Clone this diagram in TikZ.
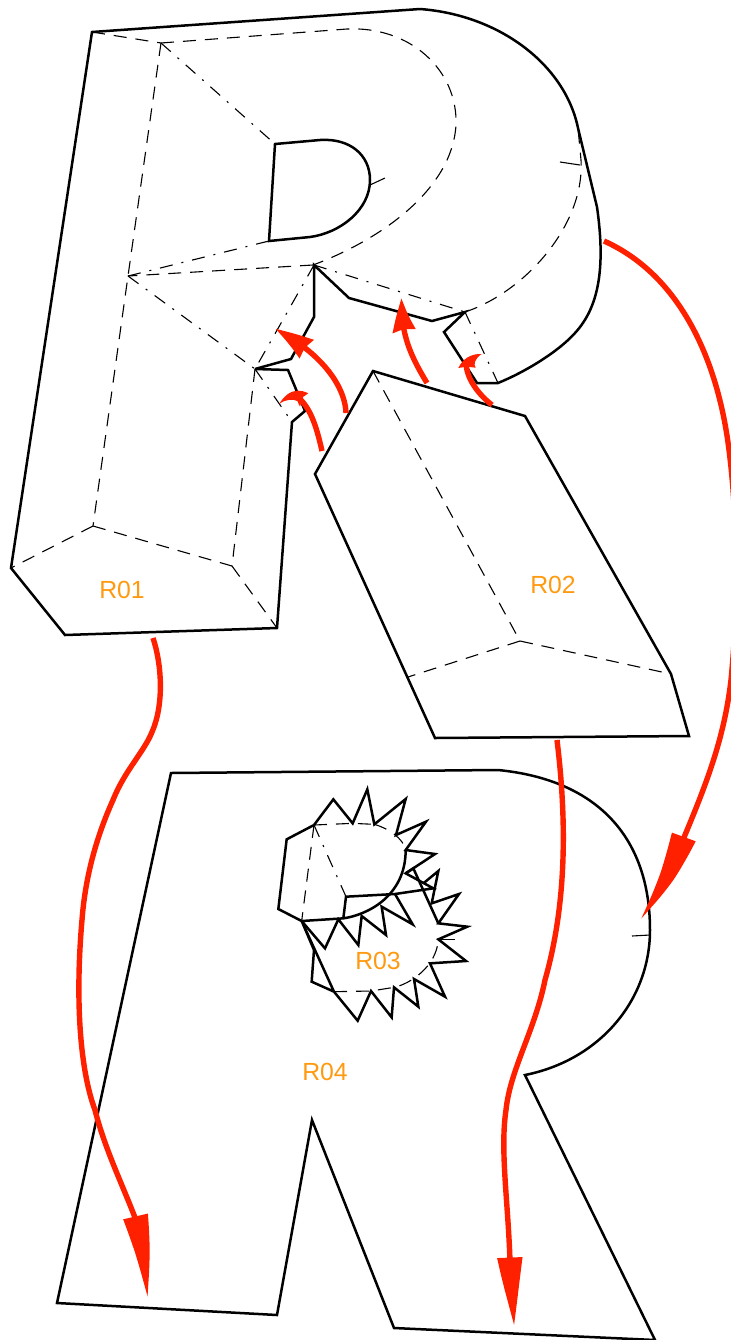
\documentclass[tikz,border=0pt]{standalone}
\usepackage{fontspec}
\setmainfont{Liberation Sans}
\usetikzlibrary{arrows.meta,bending}
\definecolor{arrowred}{HTML}{FF2000}
\definecolor{labelorange}{HTML}{FF9A10}
\tikzset{
  solidline/.style={draw=black,line width=1.25pt,line join=miter,miter limit=6},
  hiddenline/.style={draw=black,line width=0.55pt,dash pattern=on 6.5pt off 4.5pt},
  centerline/.style={draw=black,line width=0.55pt,dash pattern=on 6.5pt off 4.5pt on 1pt off 4.5pt},
  tickline/.style={draw=black,line width=0.55pt},
  redline/.style={draw=arrowred,line width=2.7pt},
  bigarrow/.style={redline,-{Stealth[length=#1,width=12pt,inset=0pt,bend]}},
  smallarrow/.style={redline,-{Stealth[length=#1,width=11pt,inset=1pt,bend]}},
  crescent/.style={fill=arrowred,draw=none},
  regionlabel/.style={text=labelorange,font=\fontsize{12.4pt}{14pt}\selectfont,inner sep=0pt}
}
\begin{document}
\begin{tikzpicture}[x=0.5pt,y=-0.5pt]
\useasboundingbox (0,0) rectangle (731,1340);
% R01
\draw[solidline] (92,32) -- (420,9) .. controls (500,15) and (565,65) .. (578,128)
  -- (597,207) .. controls (606,270) and (598,308) .. (575,333) .. controls (558,352) and (525,372) .. (498,383)
  -- (477,383) -- (444,332) -- (465,312) -- (432,321) -- (349,298) -- (314,265) -- (314,317) -- (291,359) -- (255,369) -- (288,370) -- (305,411) -- (292,422) -- (277,628) -- (65,635) -- (11,568) -- cycle;
\draw[solidline] (275,144) -- (320,140) .. controls (350,138) and (370,155) .. (370,180) .. controls (370,210) and (340,233) .. (310,237) -- (269,241) -- cycle;
\draw[hiddenline] (92,32) -- (161,43);
\draw[hiddenline] (161,43) -- (347,29) .. controls (410,26) and (458,70) .. (456,125) .. controls (452,190) and (380,240) .. (313,265);
\draw[hiddenline] (313,265) -- (128,276);
\draw[hiddenline] (161,43) -- (128,276) -- (93,526);
\draw[centerline] (128,276) -- (269,241);
\draw[centerline] (161,43) -- (275,144);
\draw[centerline] (128,276) -- (255,369);
\draw[hiddenline] (255,369) -- (232,566);
\draw[hiddenline] (93,526) -- (232,566);
\draw[hiddenline] (232,566) -- (277,628);
\draw[hiddenline] (93,526) -- (11,568);
\draw[centerline] (314,265) -- (255,369);
\draw[centerline] (255,369) -- (292,422);
\draw[centerline] (314,265) -- (465,312);
\draw[hiddenline] (465,312) .. controls (525,292) and (585,225) .. (581,160) -- (578,128);
\draw[centerline] (465,312) -- (498,383);
\draw[tickline] (560,162) -- (580,165);
\draw[tickline] (370,185) -- (385,178);
% R02
\draw[solidline] (373,371) -- (525,416) -- (671,674) -- (689,736) -- (435,738) -- (315,474) -- cycle;
\draw[hiddenline] (373,371) -- (520,641);
\draw[hiddenline] (520,641) -- (671,674);
\draw[hiddenline] (520,641) -- (408,677);
% R04
\draw[solidline] (171,773) -- (498,770) .. controls (600,780) and (650,840) .. (650,930) .. controls (650,1000) and (600,1060) .. (525,1075)
  -- (655,1340) -- (394,1328) -- (312,1120) -- (277,1315) -- (57,1303) -- cycle;
\draw[tickline] (632,936) -- (650,935);
% R03
\begin{scope}[shift={(260,780)},x=0.16667pt,y=-0.16667pt]
\draw[solidline] (162,135) -- (220,58) -- (278,130) -- (322,28) -- (343,133) -- (437,57) -- (408,165) -- (498,125) -- (437,210) -- (525,222) -- (437,280) -- (520,325) -- (405,342);
\draw[solidline] (162,135) -- (80,178) -- (55,387) -- (125,423) -- (250,415) .. controls (320,405) and (437,350) .. (437,210);
\draw[solidline] (250,415) -- (258,350) -- (405,342);
\draw[solidline] (125,423) -- (195,505) -- (235,418) -- (295,495) -- (305,408) -- (378,465) -- (365,380) -- (458,433) -- (405,342);
\draw[solidline] (437,280) -- (460,265) -- (535,430);
\draw[solidline] (490,310) -- (535,273) -- (515,370) -- (597,342) -- (535,430) -- (622,440) -- (535,478) -- (618,543) -- (510,550) -- (555,650) -- (462,597) -- (475,680) -- (402,622) -- (395,712) -- (333,633) -- (293,722) -- (222,635) -- (155,605) -- (162,510) -- (125,423) -- (222,635);
\draw[hiddenline] (162,135) -- (278,130) -- (343,133);
\draw[hiddenline] (343,133) .. controls (385,145) and (430,175) .. (437,210);
\draw[hiddenline] (162,135) -- (125,423);
\draw[centerline] (162,135) -- (258,350);
\draw[hiddenline] (222,635) -- (333,633) -- (402,622) .. controls (450,612) and (530,560) .. (535,478);
\draw[tickline] (535,478) -- (585,478);
\end{scope}
% labels
\node[regionlabel] (r01) at (122,590) {R01};
\node[regionlabel] (r02) at (553,585) {R02};
\node[regionlabel] (r03) at (378,961) {R03};
\node[regionlabel] (r04) at (325,1072) {R04};
% arrow ends
\coordinate (a1s) at (604,241); \coordinate (a1e) at (640,918);
\coordinate (a2s) at (153,638); \coordinate (a2e) at (147,1297);
\coordinate (a3s) at (557,740); \coordinate (a3e) at (514,1326);
\coordinate (s1s) at (322,451); \coordinate (s1e) at (298,397);
\coordinate (s2s) at (346,413); \coordinate (s2e) at (275,329);
\coordinate (s3s) at (427,383); \coordinate (s3e) at (402,298);
\coordinate (s4s) at (492,405); \coordinate (s4e) at (466,362);
% arrows
\draw[bigarrow=40pt] (a1s) .. controls (680,275) and (718,360) .. (729,450) .. controls (738,520) and (738,610) .. (731,680) .. controls (724,740) and (706,785) .. (680,847) .. controls (668,878) and (655,900) .. (a1e);
\draw[bigarrow=37pt] (a2s) .. controls (162,665) and (164,705) .. (152,732) .. controls (144,752) and (125,770) .. (113,800) .. controls (95,840) and (85,880) .. (82,920) .. controls (75,1000) and (80,1070) .. (95,1110) .. controls (105,1150) and (125,1190) .. (137,1223) .. controls (143,1250) and (146,1275) .. (a2e);
\draw[bigarrow=33pt] (a3s) .. controls (568,830) and (565,910) .. (545,980) .. controls (535,1030) and (510,1070) .. (506,1110) .. controls (500,1150) and (508,1200) .. (510,1261) .. controls (511,1285) and (513,1305) .. (a3e);
\draw[redline] (s1s) .. controls (316,424) and (310,408) .. (s1e);
\fill[crescent] (279.3,404) .. controls (283,397) and (290,391) .. (296.7,390.7) .. controls (301,390.5) and (305,391.5) .. (308.3,393.3) -- (303,397) -- (300,406.7) -- (297.3,401) .. controls (294,399) and (285,399) .. cycle;
\draw[smallarrow=19pt] (s2s) .. controls (345,385) and (320,352) .. (s2e);
\draw[smallarrow=17pt] (s3s) .. controls (412,358) and (400,335) .. (s3e);
\draw[redline] (s4s) .. controls (478,394) and (466,378) .. (s4e);
\fill[crescent] (481.7,354) .. controls (472,353.5) and (463,358) .. (458.3,368) -- (466.7,366.7) -- (475.7,367.7) .. controls (473,365) and (475,358) .. cycle;
\end{tikzpicture}
\end{document}
